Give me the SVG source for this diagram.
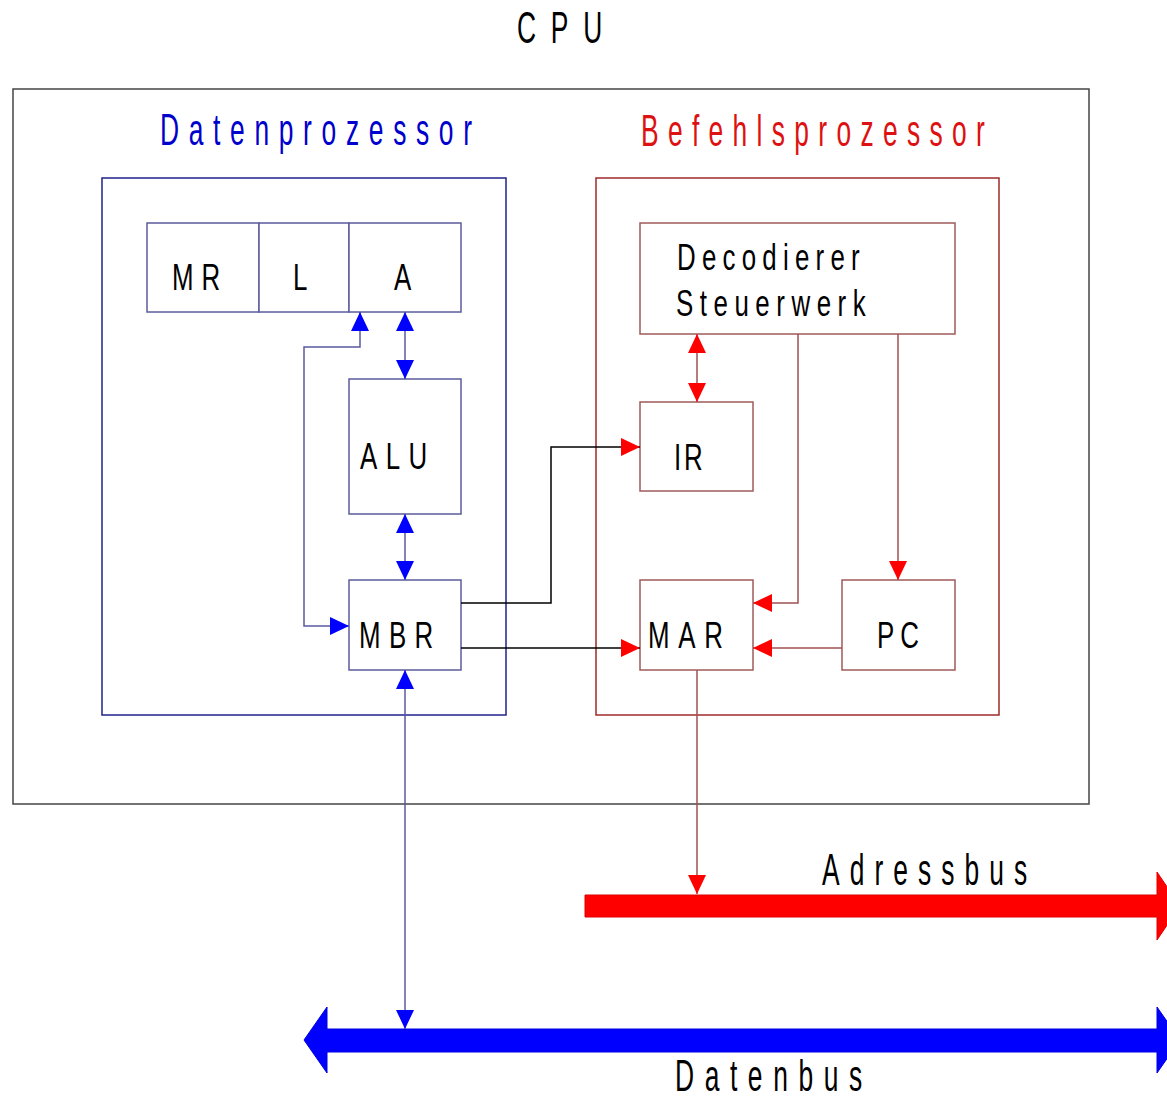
<svg xmlns="http://www.w3.org/2000/svg" width="1167" height="1100" viewBox="0 0 1167 1100">
<style>
text{font-family:"Liberation Sans",Arial,sans-serif;fill:#000}
.big{font-size:44px}
.sm{font-size:37px}
.bbox{fill:#fff;stroke:#5c5c9c;stroke-width:1.5}
.rbox{fill:#fff;stroke:#a05a5a;stroke-width:1.5}
.bl{fill:none;stroke:#5a5a9e;stroke-width:1.5}
.rl{fill:none;stroke:#a05050;stroke-width:1.5}
.kl{fill:none;stroke:#000;stroke-width:1.5}
</style>
<defs>
<marker id="ab" markerUnits="userSpaceOnUse" viewBox="0 0 19 18" refX="19" refY="9" markerWidth="19" markerHeight="18" orient="auto-start-reverse"><path d="M0,0 L19,9 L0,18 z" fill="#0000ff"/></marker>
<marker id="ar" markerUnits="userSpaceOnUse" viewBox="0 0 19 18" refX="19" refY="9" markerWidth="19" markerHeight="18" orient="auto-start-reverse"><path d="M0,0 L19,9 L0,18 z" fill="#ff0000"/></marker>
</defs>

<text class="big" font-size="43" transform="translate(517,43) scale(0.6,1)" textLength="142" lengthAdjust="spacing">CPU</text>

<g id="cpu"><rect x="13" y="89" width="1076" height="715" fill="none" stroke="#444" stroke-width="1.5"/></g>

<g id="datenprozessor">
<rect x="102" y="178" width="404" height="537" fill="none" stroke="#22228c" stroke-width="1.5"/>
<text class="big" style="fill:#0000cc" transform="translate(160,145) scale(0.6,1)" textLength="520" lengthAdjust="spacing">Datenprozessor</text>
</g>
<g id="befehlsprozessor">
<rect x="596" y="178" width="403" height="537" fill="none" stroke="#a02a2a" stroke-width="1.5"/>
<text class="big" style="fill:#dd1111" transform="translate(641,146) scale(0.6,1)" textLength="573" lengthAdjust="spacing">Befehlsprozessor</text>
</g>

<g id="mr"><rect class="bbox" x="147" y="223" width="112" height="89"/><text class="sm" transform="translate(172,290) scale(0.7,1)" textLength="69" lengthAdjust="spacing">MR</text></g>
<g id="l"><rect class="bbox" x="259" y="223" width="90" height="89"/><text class="sm" transform="translate(293,290) scale(0.7,1)">L</text></g>
<g id="a"><rect class="bbox" x="349" y="223" width="112" height="89"/><text class="sm" transform="translate(394,290) scale(0.7,1)">A</text></g>
<g id="alu"><rect class="bbox" x="349" y="379" width="112" height="135"/><text class="sm" font-size="35" transform="translate(360,469) scale(0.7,1)" textLength="96" lengthAdjust="spacing">ALU</text></g>
<g id="mbr"><rect class="bbox" x="349" y="580" width="112" height="90"/><text class="sm" transform="translate(359,648) scale(0.7,1)" textLength="106" lengthAdjust="spacing">MBR</text></g>

<g id="decodierer"><rect class="rbox" x="640" y="223" width="315" height="111"/>
<text class="sm" transform="translate(677,270) scale(0.7,1)" textLength="261" lengthAdjust="spacing">Decodierer</text>
<text class="sm" transform="translate(676,316) scale(0.7,1)" textLength="271" lengthAdjust="spacing">Steuerwerk</text></g>
<g id="ir"><rect class="rbox" x="640" y="402" width="113" height="89"/><text class="sm" transform="translate(674,470) scale(0.7,1)" textLength="41" lengthAdjust="spacing">IR</text></g>
<g id="mar"><rect class="rbox" x="640" y="580" width="113" height="90"/><text class="sm" transform="translate(648,648) scale(0.7,1)" textLength="107" lengthAdjust="spacing">MAR</text></g>
<g id="pc"><rect class="rbox" x="842" y="580" width="113" height="90"/><text class="sm" transform="translate(877,648) scale(0.7,1)" textLength="60" lengthAdjust="spacing">PC</text></g>

<g id="adressbus">
<path d="M585,895 L1157,895 L1157,872 L1180,906 L1157,940 L1157,917 L585,917 z" fill="#ff0000" stroke="#e00000" stroke-width="1"/>
<text class="big" transform="translate(822,885) scale(0.6,1)" textLength="342" lengthAdjust="spacing">Adressbus</text>
</g>
<g id="datenbus">
<path d="M304,1040 L327,1007 L327,1029 L1157,1029 L1157,1007 L1180,1040 L1157,1073 L1157,1052 L327,1052 L327,1073 z" fill="#0000ff" stroke="#0000e0" stroke-width="1"/>
<text class="big" font-size="43" transform="translate(675,1091) scale(0.6,1)" textLength="312" lengthAdjust="spacing">Datenbus</text>
</g>

<g id="connectors">
<path class="bl" d="M405,312 L405,379" marker-start="url(#ab)" marker-end="url(#ab)"/>
<path class="bl" d="M405,514 L405,580" marker-start="url(#ab)" marker-end="url(#ab)"/>
<path class="bl" d="M349,626 L304,626 L304,347 L360,347 L360,312" marker-start="url(#ab)" marker-end="url(#ab)"/>
<path class="bl" d="M405,670 L405,1029" marker-start="url(#ab)" marker-end="url(#ab)"/>
<path class="kl" d="M461,603 L551,603 L551,447 L640,447" marker-end="url(#ar)"/>
<path class="kl" d="M461,648 L640,648" marker-end="url(#ar)"/>
<path class="rl" d="M697,334 L697,402" marker-start="url(#ar)" marker-end="url(#ar)"/>
<path class="rl" d="M798,334 L798,603 L753,603" marker-end="url(#ar)"/>
<path class="rl" d="M898,334 L898,580" marker-end="url(#ar)"/>
<path class="rl" d="M842,648 L753,648" marker-end="url(#ar)"/>
<path class="rl" d="M697,670 L697,894" marker-end="url(#ar)"/>
</g>
</svg>
